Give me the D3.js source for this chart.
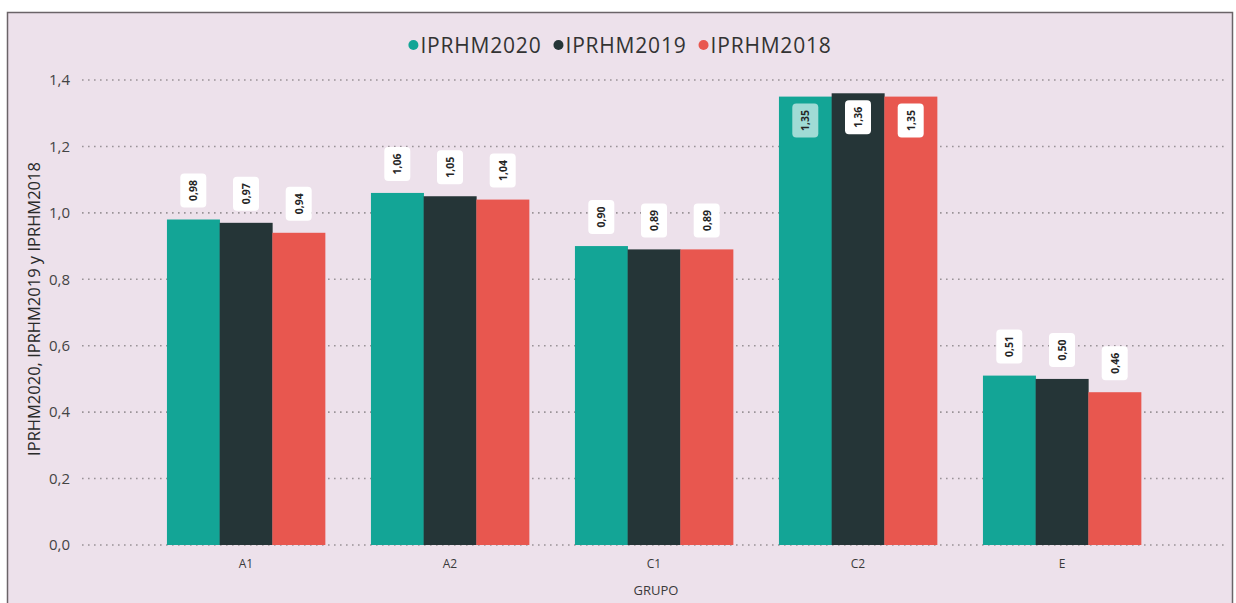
<!DOCTYPE html>
<html><head><meta charset="utf-8">
<script src="https://cdn.jsdelivr.net/npm/d3@7"></script>
<style>
html,body{margin:0;padding:0;background:#fff;}
svg{display:block;font-family:"Open Sans","Noto Sans",sans-serif;}
</style></head>
<body>
<svg id="chart" width="1236" height="603"></svg>
<script>
const categories = ["A1","A2","C1","C2","E"];
const seriesNames = ["IPRHM2020","IPRHM2019","IPRHM2018"];
const values2020 = [0.98, 1.06, 0.90, 1.35, 0.51];
const values2019 = [0.97, 1.05, 0.89, 1.36, 0.50];
const values2018 = [0.94, 1.04, 0.89, 1.35, 0.46];
const yTicks = [0, 0.2, 0.4, 0.6, 0.8, 1.0, 1.2, 1.4];
const colors = ["#13a596", "#253537", "#e8574f"];
const series = [values2020, values2019, values2018];

const svg = d3.select("#chart");
const W = 1236, H = 603;
// frame
svg.append("rect").attr("x",0).attr("y",0).attr("width",W).attr("height",H).attr("fill","#fff");
svg.append("rect").attr("x",7.5).attr("y",12.5).attr("width",1225).attr("height",600)
  .attr("fill","#ede1eb").attr("stroke","#6b6468").attr("stroke-width",1.5);

const plotTop = 80, plotBottom = 545;
const y = d3.scaleLinear().domain([0,1.4]).range([plotBottom, plotTop]);
const x0 = d3.scaleBand().domain(categories).range([144,1164]).paddingInner(0.225).paddingOuter(0.1125);
const x1 = d3.scaleBand().domain(seriesNames).range([0, x0.bandwidth()]).padding(0);

// gridlines
const grid = svg.append("g");
yTicks.forEach(t => {
  grid.append("line").attr("x1",82).attr("x2",1228).attr("y1",y(t)).attr("y2",y(t))
    .attr("stroke","#9a9398").attr("stroke-width",1.6).attr("stroke-dasharray","1.6,4.4");
});

// y axis
const yAxis = d3.axisLeft(y).tickValues(yTicks).tickSize(0).tickPadding(0)
  .tickFormat(d => d3.format(".1f")(d).replace(".", ","));
const ya = svg.append("g").attr("transform","translate(70,0)").call(yAxis);
ya.select(".domain").remove();
ya.selectAll("text").attr("fill","#444").attr("font-size",15).attr("font-family","Open Sans, sans-serif");

// x axis
const xAxis = d3.axisBottom(x0).tickSize(0).tickPadding(0);
const xa = svg.append("g").attr("transform","translate(0,559)").call(xAxis);
xa.select(".domain").remove();
xa.selectAll("text").attr("fill","#3a3a3a").attr("font-size",12).attr("font-family","Open Sans, sans-serif");

// axis titles
svg.append("text").attr("x",656).attr("y",595).attr("text-anchor","middle")
  .attr("fill","#3a3a3a").attr("font-size",13).text("GRUPO");
svg.append("text").attr("transform","translate(40,309) rotate(-90)").attr("text-anchor","middle")
  .attr("fill","#2a2a2a").attr("font-size",16.5).text("IPRHM2020, IPRHM2019 y IPRHM2018");

// bars
const groups = svg.append("g").selectAll("g").data(categories).join("g")
  .attr("transform", c => `translate(${x0(c)},0)`);
groups.each(function(c, ci){
  const g = d3.select(this);
  seriesNames.forEach((s, si) => {
    const v = series[si][ci];
    g.append("rect").attr("x", x1(s)).attr("width", x1.bandwidth()+0.3)
      .attr("y", y(v)).attr("height", y(0)-y(v)).attr("fill", colors[si]);
  });
});

// labels
const labelG = svg.append("g");
categories.forEach((c, ci) => {
  seriesNames.forEach((s, si) => {
    const v = series[si][ci];
    const txt = d3.format(".2f")(v).replace(".", ",");
    const cx = x0(c) + x1(s) + x1.bandwidth()/2;
    const t = labelG.append("text").attr("font-size",10.5).attr("font-weight","bold")
      .attr("fill","#252525").attr("text-anchor","middle").attr("dominant-baseline","central").text(txt);
    const tw = t.node().getComputedTextLength();
    const bh = tw + 13, bw = 26;
    let top = y(v) - 12 - bh;
    let inside = false;
    if (top < plotTop) { top = y(v) + 7; inside = true; }
    const cy = top + bh/2;
    labelG.insert("rect", () => t.node()).attr("x", cx - bw/2).attr("y", top).attr("width", bw).attr("height", bh)
      .attr("rx",4).attr("fill","#fff").attr("fill-opacity", (inside && si===0) ? 0.6 : 1);
    t.attr("transform", `translate(${cx},${cy}) rotate(-90)`);
  });
});

// legend
const leg = svg.append("g");
let lx = 0;
seriesNames.forEach((s, i) => {
  const it = leg.append("g");
  it.append("circle").attr("cx",5).attr("cy",0).attr("r",5).attr("fill",colors[i]);
  const t = it.append("text").attr("x",12).attr("y",0).attr("dominant-baseline","central")
    .attr("font-size",21).attr("letter-spacing",0.8).attr("fill","#333").text(s);
  const w = 12 + t.node().getComputedTextLength();
  it.attr("transform", `translate(${lx},0)`);
  lx += w + 12;
});
lx -= 12;
leg.attr("transform", `translate(${620 - lx/2},45)`);
</script>
</body></html>
